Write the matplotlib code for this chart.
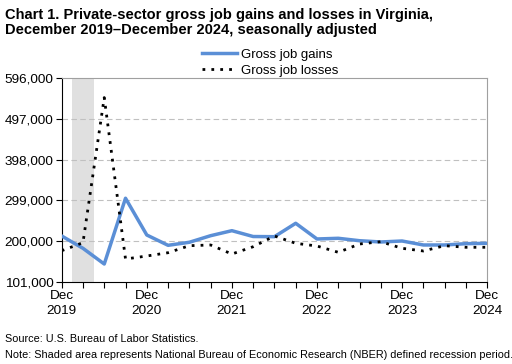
import matplotlib
matplotlib.use("Agg")
import matplotlib.pyplot as plt
import numpy as np

plt.rcParams['font.family'] = ['Liberation Sans', 'DejaVu Sans']

# quarterly, Dec 2019 .. Dec 2024
quarters = ['Dec 2019', 'Mar 2020', 'Jun 2020', 'Sep 2020', 'Dec 2020',
            'Mar 2021', 'Jun 2021', 'Sep 2021', 'Dec 2021',
            'Mar 2022', 'Jun 2022', 'Sep 2022', 'Dec 2022',
            'Mar 2023', 'Jun 2023', 'Sep 2023', 'Dec 2023',
            'Mar 2024', 'Jun 2024', 'Sep 2024', 'Dec 2024']
gains = [212300, 182300, 144100, 304100, 214700,
         189600, 197000, 213000, 225200,
         211000, 210600, 243200, 205000,
         206700, 200800, 197700, 200100,
         190400, 190400, 193600, 194500]
losses = [176500, 196000, 549000, 156300, 163600,
          171600, 188700, 190400, 168400,
          186200, 212300, 194500, 187900,
          172600, 192800, 198400, 182300,
          175800, 188700, 184800, 184800]
y_ticks = [101000, 200000, 299000, 398000, 497000, 596000]
x_labels = ['Dec\n2019', 'Dec\n2020', 'Dec\n2021', 'Dec\n2022', 'Dec\n2023', 'Dec\n2024']
recession = (0.5, 1.5)  # in quarter index units

fig = plt.figure(figsize=(5.12, 3.64), dpi=100)
ax = fig.add_axes([0.1205, 0.226, 0.831, 0.559])

x = np.arange(len(quarters))
ax.axvspan(recession[0], recession[1], color='#e0e0e0', lw=0, zorder=0)
for yt in y_ticks[1:-1]:
    ax.axhline(yt, color='#c0c0c0', lw=0.8, ls=(0, (5, 3)), zorder=1)

ax.plot(x, gains, color='#5b8fd6', lw=2.5, label='Gross job gains', zorder=3)
ax.plot(x, losses, color='black', lw=2, ls=(0, (1, 2.2)), label='Gross job losses', zorder=4)

ax.set_xlim(0, len(quarters) - 1)
ax.set_ylim(y_ticks[0], y_ticks[-1])
ax.set_yticks(y_ticks)
ax.set_yticklabels([f'{v:,}' for v in y_ticks])
ax.set_xticks(x)
ax.set_xticklabels([x_labels[i // 4] if i % 4 == 0 else '' for i in x], linespacing=1.35)
ax.tick_params(axis='both', direction='out', length=4, width=0.8, labelsize=9.7, colors='black', pad=2)

for s in ['top', 'right']:
    ax.spines[s].set_color('#a0a0a0')
    ax.spines[s].set_linewidth(0.8)
for s in ['left', 'bottom']:
    ax.spines[s].set_color('black')
    ax.spines[s].set_linewidth(0.8)

ax.legend(loc='lower center', bbox_to_anchor=(0.49, 0.975), frameon=False, fontsize=9.5,
          handlelength=2.6, handletextpad=0.3, labelspacing=0.3, borderpad=0)

fig.text(0.01, 0.978, 'Chart 1. Private-sector gross job gains and losses in Virginia,\n'
         'December 2019\u2013December 2024, seasonally adjusted',
         fontsize=10.5, fontweight='bold', va='top', ha='left', linespacing=1.1)
fig.text(0.01, 0.055, 'Source: U.S. Bureau of Labor Statistics.', fontsize=7.8, va='bottom')
fig.text(0.01, 0.012, 'Note: Shaded area represents National Bureau of Economic Research (NBER) '
         'defined recession period.', fontsize=7.8, va='bottom')

fig.savefig('out.png', dpi=100)
